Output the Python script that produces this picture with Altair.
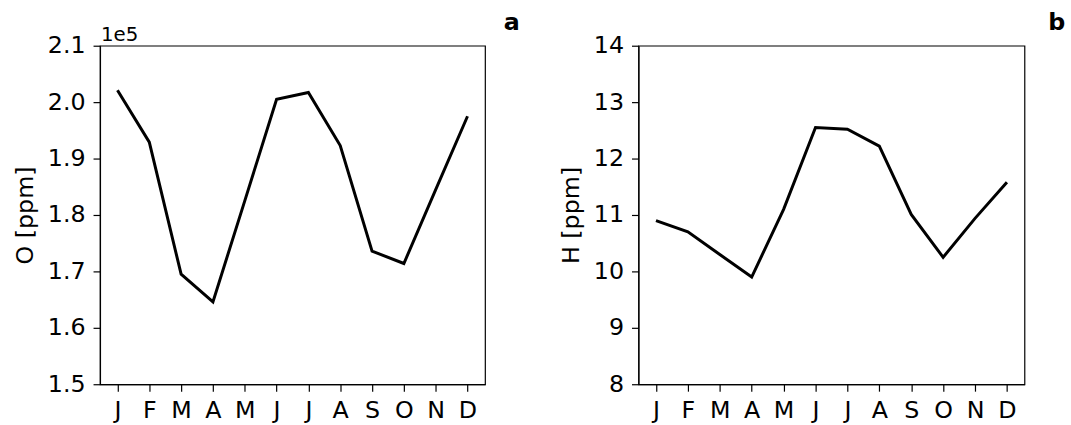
import altair as alt
import pandas as pd

# Monthly climatology of the two species
MONTHS = ["J", "F", "M", "A", "M", "J", "J", "A", "S", "O", "N", "D"]
O_PPM = [202100, 192900, 169500, 164600, 182500, 200500,
         201700, 192300, 173600, 171400, 184500, 197500]
H_PPM = [10.90, 10.70, 10.30, 9.90, 11.10, 12.55,
         12.52, 12.22, 11.01, 10.25, 10.94, 11.58]
O_TICKS = [150000, 160000, 170000, 180000, 190000, 200000, 210000]
H_TICKS = [8, 9, 10, 11, 12, 13, 14]

FONT = "DejaVu Sans"
df = pd.DataFrame({"m": list(range(len(MONTHS))), "O": O_PPM, "H": H_PPM})
month_expr = "[" + ",".join(f"'{m}'" for m in MONTHS) + "][datum.value]"


def x_enc():
    return alt.X(
        "m:Q",
        scale=alt.Scale(domain=[-0.55, 11.55], nice=False, zero=False),
        axis=alt.Axis(values=list(range(12)), labelExpr=month_expr,
                      title=None, labelBaseline="alphabetic", labelPadding=27),
    )


def letter(txt, xpos):
    return alt.Chart(pd.DataFrame({"t": [txt]})).mark_text(
        font=FONT, fontSize=24, fontWeight="bold", align="left",
        baseline="alphabetic", color="black",
    ).encode(text="t:N", x=alt.value(xpos), y=alt.value(-16))


base = alt.Chart(df)

o_line = base.mark_line(color="black", strokeWidth=3).encode(
    x=x_enc(),
    y=alt.Y("O:Q",
            scale=alt.Scale(domain=[150000, 210000], nice=False, zero=False),
            axis=alt.Axis(values=O_TICKS, title="O [ppm]",
                          labelExpr="format(datum.value / 1e5, '.1f')")),
)
offset_txt = alt.Chart(pd.DataFrame({"t": ["1e5"]})).mark_text(
    font=FONT, fontSize=20, align="left", baseline="alphabetic", color="black"
).encode(text="t:N", x=alt.value(1), y=alt.value(-5))

left = alt.layer(o_line, offset_txt, letter("a", 408)).properties(width=389, height=342)

h_line = base.mark_line(color="black", strokeWidth=3).encode(
    x=x_enc(),
    y=alt.Y("H:Q",
            scale=alt.Scale(domain=[8, 14], nice=False, zero=False),
            axis=alt.Axis(values=H_TICKS, title="H [ppm]", format="d")),
)
right = alt.layer(h_line, letter("b", 414)).properties(width=390, height=342)

chart = (
    alt.hconcat(left, right, spacing=155, bounds="flush")
    .properties(padding={"left": 13, "top": 8, "right": 5, "bottom": 0})
    .configure_view(stroke="black", strokeWidth=1.2)
    .configure_axis(
        grid=False, domainColor="black", domainWidth=1.2,
        tickColor="black", tickSize=7, tickWidth=1.2,
        labelFont=FONT, labelFontSize=24, labelColor="black", labelPadding=8,
        titleFont=FONT, titleFontSize=24, titleFontWeight="normal",
        titleColor="black", titlePadding=10,
    )
)

chart.save("out.html", embed_options={"renderer": "svg", "actions": False})
